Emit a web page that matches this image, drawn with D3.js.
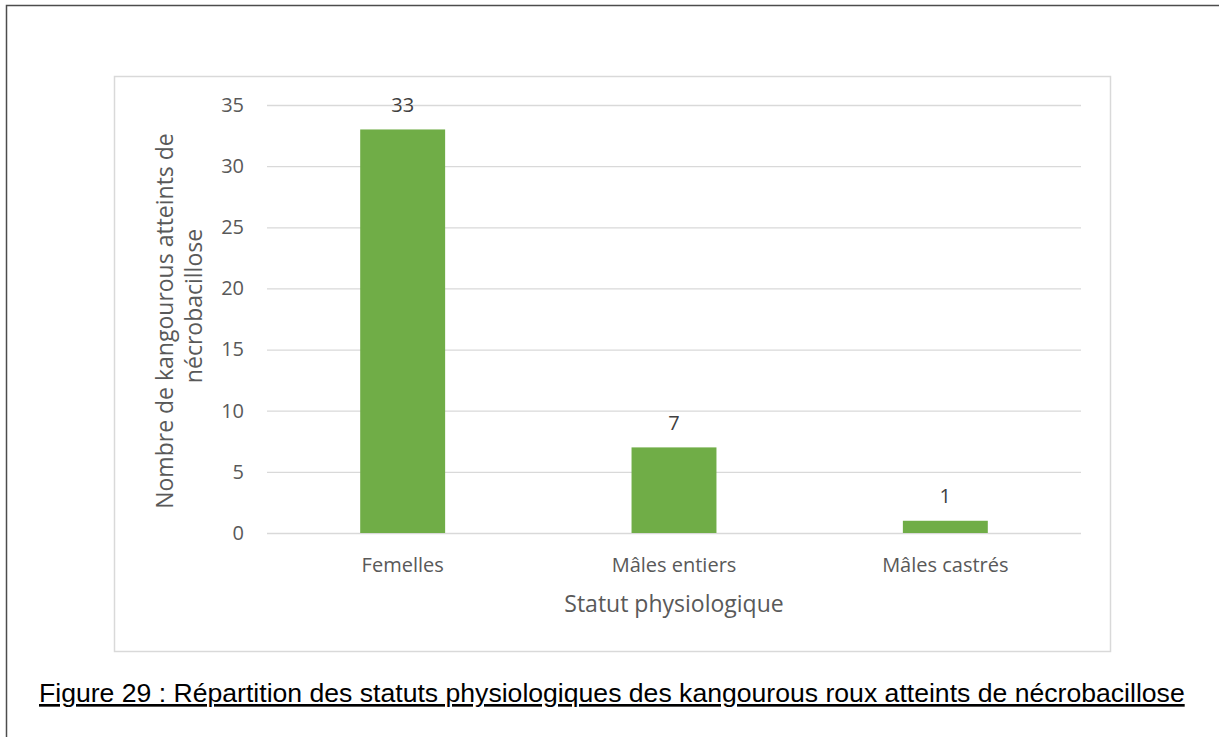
<!DOCTYPE html>
<html>
<head>
<meta charset="utf-8">
<script src="https://cdn.jsdelivr.net/npm/d3@7"></script>
<style>
	body { margin: 0; background: #fff; }
	svg { display: block; }
</style>
</head>
<body>
<svg id="chart" width="1219" height="737"></svg>
<script>
const categories = ['Femelles', 'Mâles entiers', 'Mâles castrés'];
const counts = [33, 7, 1];
const yTicks = [0, 5, 10, 15, 20, 25, 30, 35];
const yTitleLines = ['Nombre de kangourous atteints de', 'nécrobacillose'];
const xTitle = 'Statut physiologique';
const caption = 'Figure 29 : Répartition des statuts physiologiques des kangourous roux atteints de nécrobacillose';

const barColor = '#70ad47';
const textColor = '#595959';
const gridColor = '#d9d9d9';
const tickFont = '"Open Sans", sans-serif';

var svg = d3.select('#chart');

// page frame (top and left edges only)
svg.append('path')
	.attr('d', 'M6.5,737 L6.5,5.5 L1219,5.5')
	.attr('fill', 'none')
	.attr('stroke', '#4d4d4d')
	.attr('stroke-width', 1.5);

// chart area border
svg.append('rect')
	.attr('x', 114.5).attr('y', 76.5)
	.attr('width', 996).attr('height', 575)
	.attr('fill', '#fff')
	.attr('stroke', gridColor)
	.attr('stroke-width', 1.5);

var plot = {left: 267, right: 1081, top: 105, bottom: 533};

var x = d3.scaleBand()
	.domain(categories)
	.range([plot.left, plot.right])
	.padding(0);
var barWidth = x.bandwidth() * 0.313;

var y = d3.scaleLinear()
	.domain([0, 35])
	.range([plot.bottom, plot.top]);

// gridlines + y tick labels
var yAxis = svg.append('g')
	.attr('transform', 'translate(' + plot.left + ',0)')
	.call(d3.axisLeft(y).tickValues(yTicks).tickSize(-(plot.right - plot.left)).tickPadding(23));
yAxis.select('.domain').remove();
yAxis.selectAll('.tick line')
	.attr('stroke', gridColor)
	.attr('stroke-width', 1.3);
yAxis.selectAll('.tick text')
	.attr('fill', textColor)
	.style('font-family', tickFont)
	.style('font-size', '20px');

// bars
svg.selectAll('rect.bar')
	.data(counts)
	.enter()
	.append('rect')
		.attr('class', 'bar')
		.attr('x', (d, i) => x(categories[i]) + (x.bandwidth() - barWidth) / 2)
		.attr('y', d => y(d))
		.attr('width', barWidth)
		.attr('height', d => y(0) - y(d))
		.attr('fill', barColor);

// data labels
svg.selectAll('text.value')
	.data(counts)
	.enter()
	.append('text')
		.attr('class', 'value')
		.attr('x', (d, i) => x(categories[i]) + x.bandwidth() / 2)
		.attr('y', d => y(d) - 17.5)
		.attr('text-anchor', 'middle')
		.attr('fill', '#404040')
		.style('font-family', tickFont)
		.style('font-size', '20px')
		.text(d => d);

// category axis
var xAxis = svg.append('g')
	.attr('transform', 'translate(0,' + plot.bottom + ')')
	.call(d3.axisBottom(x).tickSize(0).tickPadding(0));
xAxis.select('.domain').remove();
xAxis.selectAll('.tick text')
	.attr('dy', null)
	.attr('y', 39)
	.attr('fill', textColor)
	.style('font-family', tickFont)
	.style('font-size', '20px');

// axis titles
svg.append('text')
	.attr('x', (plot.left + plot.right) / 2)
	.attr('y', 612)
	.attr('text-anchor', 'middle')
	.attr('fill', textColor)
	.style('font-family', tickFont)
	.style('font-size', '23px')
	.text(xTitle);

var titleCenters = [[173, 321], [202, 306]];
yTitleLines.forEach((line, i) => {
	svg.append('text')
		.attr('transform', 'translate(' + titleCenters[i][0] + ',' + titleCenters[i][1] + ') rotate(-90)')
		.attr('text-anchor', 'middle')
		.attr('fill', textColor)
		.style('font-family', tickFont)
		.style('font-size', '23px')
		.text(line);
});

// figure caption
svg.append('text')
	.attr('x', 39)
	.attr('y', 702)
	.attr('fill', '#000')
	.style('font-family', '"Liberation Sans", Arial, sans-serif')
	.style('font-size', '26.6px')
	.style('text-decoration', 'underline')
	.text(caption);
</script>
</body>
</html>
